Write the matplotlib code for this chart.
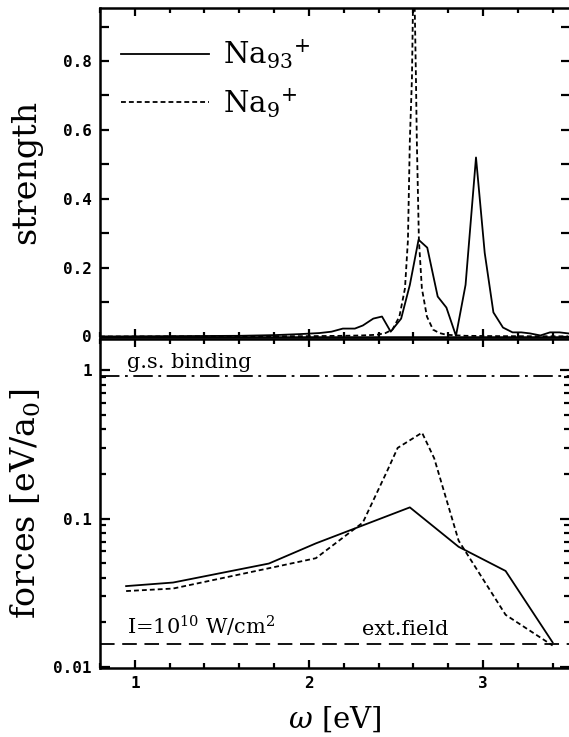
import numpy as np
import matplotlib
matplotlib.use("Agg")
import matplotlib.pyplot as plt
from matplotlib.ticker import FixedLocator, MultipleLocator, LogLocator, NullFormatter, FixedFormatter

plt.rcParams['font.family'] = 'DejaVu Serif'
plt.rcParams['mathtext.fontset'] = 'dejavuserif'
plt.rcParams['lines.scale_dashes'] = False

# strength spectra (top panel)
w_na93 = [0.80, 1.00, 1.20, 1.40, 1.60, 1.80, 1.95, 2.06, 2.13, 2.195, 2.264, 2.31, 2.37,
          2.42, 2.47, 2.53, 2.58, 2.63, 2.68, 2.74, 2.79, 2.845, 2.90, 2.96, 3.01, 3.06,
          3.115, 3.17, 3.22, 3.27, 3.33, 3.385, 3.44, 3.49]
s_na93 = [0.000, 0.0005, 0.001, 0.0015, 0.002, 0.004, 0.007, 0.010, 0.014, 0.023, 0.023,
          0.032, 0.052, 0.058, 0.014, 0.052, 0.150, 0.281, 0.258, 0.116, 0.084, 0.002,
          0.150, 0.520, 0.243, 0.070, 0.026, 0.012, 0.012, 0.009, 0.003, 0.012, 0.012, 0.009]

w_na9 = [0.80, 1.50, 2.00, 2.20, 2.30, 2.39, 2.44, 2.48, 2.52, 2.552, 2.569, 2.58, 2.592,
         2.602, 2.61, 2.615, 2.62, 2.632, 2.649, 2.678, 2.713, 2.75, 2.79, 2.90, 3.10, 3.49]
s_na9 = [0.0, 0.0005, 0.001, 0.002, 0.003, 0.005, 0.010, 0.020, 0.058, 0.14, 0.28, 0.57,
         0.75, 1.10, 0.90, 0.75, 0.57, 0.28, 0.14, 0.058, 0.020, 0.010, 0.005, 0.002,
         0.001, 0.0005]

# forces (bottom panel)
wf_na93 = [0.95, 1.22, 1.77, 2.04, 2.58, 2.86, 3.13, 3.40]
f_na93 = [0.035, 0.037, 0.0497, 0.068, 0.119, 0.0645, 0.0443, 0.0146]
wf_na9 = [0.95, 1.22, 1.77, 2.04, 2.31, 2.45, 2.51, 2.65, 2.72, 2.86, 3.13, 3.40]
f_na9 = [0.0324, 0.0337, 0.0462, 0.054, 0.094, 0.21, 0.30, 0.38, 0.255, 0.071, 0.0224, 0.0139]

gs_binding = 0.92
ext_field = 0.0143

W, H = 569, 737
fig = plt.figure(figsize=(W / 100, H / 100), dpi=100)
left, right = 100, 570
ax1 = fig.add_axes([left / W, 1 - 336.5 / H, (right - left) / W, (336.5 - 8) / H])
ax2 = fig.add_axes([left / W, 1 - 668 / H, (right - left) / W, (668 - 339) / H])

dash = (0, (3.5, 2.2))
lw_curve = 1.3

ax1.plot(w_na93, s_na93, color='black', lw=lw_curve, label=r'Na$_{93}$$^{+}$')
ax1.plot(w_na9, s_na9, color='black', lw=lw_curve, ls=dash, label=r'Na$_{9}$$^{+}$')
ax1.set_xlim(0.8, 3.5)
ax1.set_ylim(0, 0.954)

ax2.plot(wf_na93, f_na93, color='black', lw=lw_curve)
ax2.plot(wf_na9, f_na9, color='black', lw=lw_curve, ls=dash)
ax2.axhline(gs_binding, color='black', lw=1.3, ls=(0, (14, 4, 2, 4)))
ax2.axhline(ext_field, color='black', lw=1.3, ls=(0, (10.5, 5.5)))
ax2.set_yscale('log')
ax2.set_xlim(0.8, 3.5)
ax2.set_ylim(0.0098, 1.63)

for ax in (ax1, ax2):
    for sp in ax.spines.values():
        sp.set_linewidth(1.8)
    ax.tick_params(which='both', direction='in', top=True, right=True, width=1.6)
    ax.tick_params(axis='x', which='major', length=6)
    ax.tick_params(axis='x', which='minor', length=3.8)
    ax.tick_params(labelsize=11.5, pad=6)
    ax.xaxis.set_major_locator(FixedLocator([1, 2, 3]))
    ax.xaxis.set_minor_locator(MultipleLocator(0.2))

ax1.tick_params(axis='x', labelbottom=False)
ax1.yaxis.set_major_locator(FixedLocator([0, 0.2, 0.4, 0.6, 0.8]))
ax1.yaxis.set_major_formatter(FixedFormatter(['0', '0.2', '0.4', '0.6', '0.8']))
ax1.yaxis.set_minor_locator(MultipleLocator(0.1))
ax1.tick_params(axis='y', which='both', length=6.5)

ax2.yaxis.set_major_locator(FixedLocator([0.01, 0.1, 1]))
ax2.yaxis.set_major_formatter(FixedFormatter(['0.01', '0.1', '1']))
ax2.yaxis.set_minor_locator(LogLocator(base=10, subs=np.arange(2, 10)))
ax2.yaxis.set_minor_formatter(NullFormatter())
ax2.tick_params(axis='y', which='major', length=7)
ax2.tick_params(axis='y', which='minor', length=4.5)

for ax in (ax1, ax2):
    for lab in ax.get_xticklabels() + ax.get_yticklabels():
        lab.set_family('DejaVu Sans Mono')
        lab.set_weight('bold')

ax1.set_ylabel('strength', fontsize=24)
ax1.yaxis.set_label_coords(-0.123, 0.5)
ax2.set_ylabel(r'forces [eV/a$_0$]', fontsize=24)
ax2.yaxis.set_label_coords(-0.121, 0.5)
ax2.set_xlabel(r'$\omega$ [eV]', fontsize=21)
ax2.xaxis.set_label_coords(0.5, -0.11)

ax2.text(0.954, 1.13, 'g.s. binding', fontsize=15, va='center', ha='left')
ax2.text(0.954, 0.0187, r'I=10$^{10}$ W/cm$^2$', fontsize=15, va='center', ha='left')
ax2.text(2.305, 0.0179, 'ext.field', fontsize=15, va='center', ha='left')

ax1.legend(loc='upper left', bbox_to_anchor=(0.02, 0.945), frameon=False, fontsize=21,
           handlelength=3.0, handletextpad=0.5, labelspacing=0.52, borderaxespad=0)

fig.savefig('out.png', dpi=100)
